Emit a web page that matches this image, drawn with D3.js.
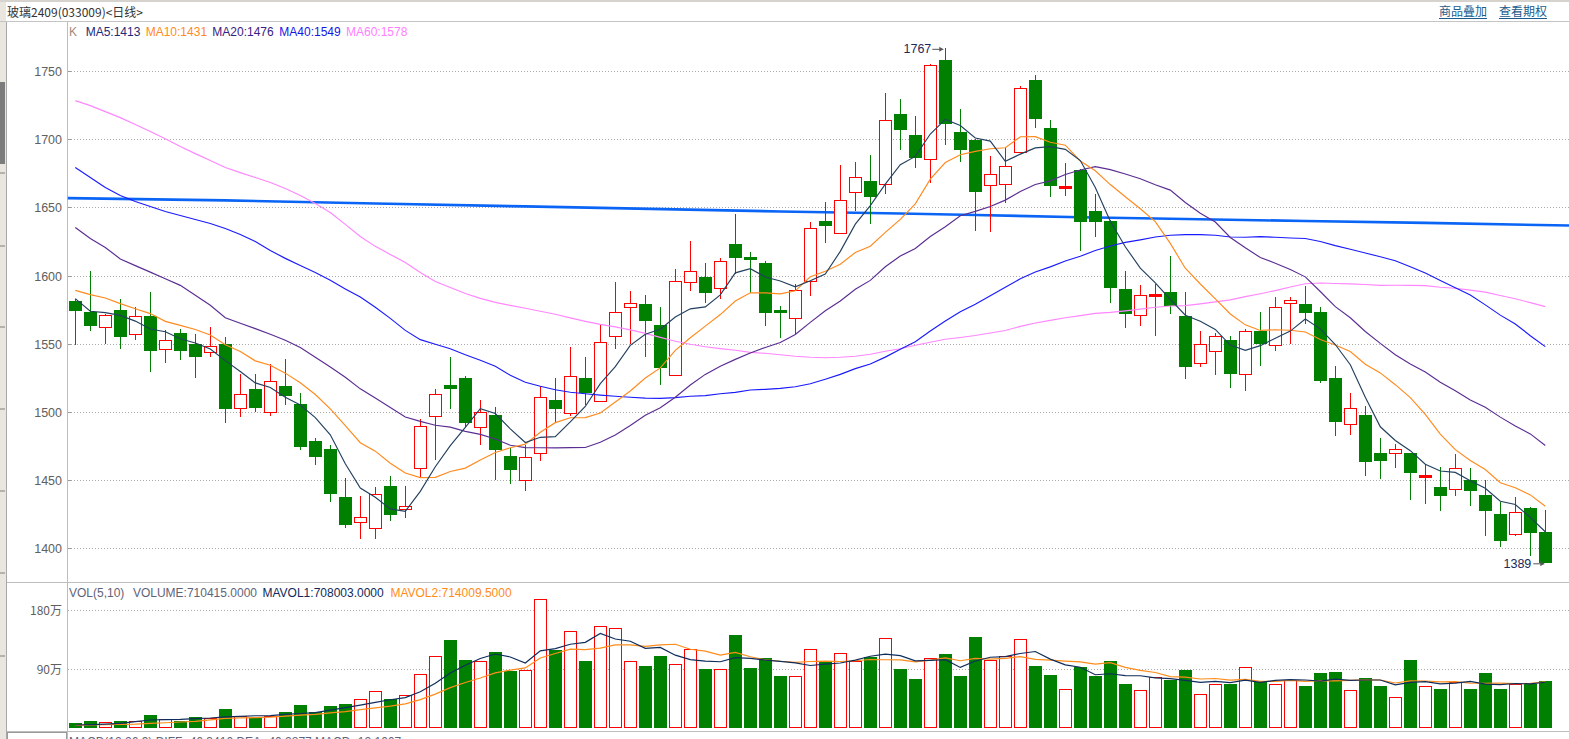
<!DOCTYPE html>
<html><head><meta charset="utf-8">
<script src="https://cdn.jsdelivr.net/npm/d3@7/dist/d3.min.js"></script>
<style>
html,body{margin:0;padding:0;background:#fff;overflow:hidden}
svg{display:block}
text{font-family:"Liberation Sans",Arial,sans-serif;font-size:12px}
.cjk{font-family:"Noto Sans CJK SC","Liberation Sans",sans-serif}
</style></head><body>
<svg id="c" width="1569" height="739"></svg>
<script>
// ---------------- DATA ----------------
const openP = [1581,1573,1562,1574.5,1557,1570,1546.5,1558,1550,1544,
 1550,1503,1517,1500,1519,1506,1479,1473,1437.6,1419,
 1415,1445.6,1429,1459,1497,1519.6,1524.7,1489,1498,1467.6,
 1450,1470,1509,1499,1525,1508,1556,1577,1579,1563.5,
 1527,1595,1599,1591,1623,1613.3,1609,1574.5,1569,1596,
 1639.7,1631,1661.6,1669,1667,1718.7,1703,1685.6,1758,1705,
 1699.7,1666.5,1667,1690.7,1743.6,1708.5,1664,1677.7,1647,1639.7,
 1590,1571,1585,1588,1570,1536,1545,1553,1528,1559,
 1549.4,1580,1579,1573,1524.7,1491.5,1498,1469.8,1469.6,1469.8,
 1453,1445,1443.6,1449.8,1439,1425,1410.7,1429.5,1412];
const highP = [1583,1603,1572,1583,1577,1588,1560,1561,1557,1562,
 1555,1528,1528,1535,1539,1514,1481,1476,1451.5,1438,
 1445,1453,1446,1495,1517,1540,1526,1509,1503.5,1473.7,
 1475.6,1519,1525,1547.6,1540,1564.5,1595,1589,1586,1577,
 1605,1625,1609,1613,1645,1617,1611,1578,1594,1639,
 1653.6,1681,1683.6,1688.7,1733.6,1729.7,1717,1755.3,1767,1722,
 1700,1688,1694.6,1739.3,1747,1714.4,1682.6,1678,1660,1641,
 1603,1593,1594,1614,1588,1559,1557.6,1556,1561,1573,
 1584,1584,1592,1577,1534,1513.7,1504,1481,1476.4,1470,
 1462,1459.3,1469,1458.6,1450,1434,1437.6,1430,1428];
const lowP = [1549,1559,1550,1546,1553,1529,1536,1538,1525,1540,
 1492,1496,1500,1497,1505,1472,1461,1434,1415,1406.6,
 1406.6,1420,1422,1452,1465,1502,1489,1475.6,1450,1447,
 1442,1464,1492,1497,1505,1508,1546,1550,1540,1520,
 1526,1588.6,1580,1583,1601,1587.5,1563,1554,1557,1585,
 1624,1630.6,1647,1638,1660,1692,1679,1668,1696,1683,
 1633,1632,1653,1690,1708,1657.5,1658,1618,1628,1580,
 1561.5,1563,1556,1571.6,1524,1533,1527,1517.6,1515,1534,
 1544.5,1550,1564.5,1521,1482,1483,1453,1451,1459,1435.6,
 1432.7,1427.5,1438.5,1431,1409,1401,1409,1394.4,1389];
const closeP = [1574,1563,1571,1555,1570,1545,1553,1545,1540,1548,
 1502,1513.5,1503,1523,1512,1474,1467,1440,1417,1423,
 1440,1424.6,1431,1490,1513.5,1517,1492,1499.6,1472,1457.3,
 1467,1511,1502,1526,1514,1551,1573,1580,1567,1532,
 1596,1603,1587,1611,1613,1611.3,1572.5,1572.5,1589.6,1635,
 1636,1655.5,1672.4,1657.5,1714,1707,1686,1754.4,1711,1692,
 1661,1674.6,1680,1737.6,1715,1665.5,1664.6,1639,1639,1591,
 1572,1586,1585.5,1578,1533,1550,1556,1528,1559,1550,
 1577,1582.3,1572.5,1522.7,1492.7,1502.7,1463.4,1464,1472.5,1455.4,
 1453.2,1438.5,1458.6,1442.2,1427.5,1405.6,1426.6,1411.4,1389.5];
// volume in 万 (10k lots)
const volume = [7.2,10.2,8.7,10.2,10.2,19.4,13.3,10.2,16.3,14.8,
 28.5,17.4,14.3,17.4,24.4,35.1,24,33.6,36.6,43.8,
 55.5,44.2,49.9,81.5,109.4,133.8,103.3,101.3,115.5,87,
 87.6,196.3,118.5,148.6,101.7,156.2,153.1,101.3,94.1,109.4,
 96.7,119.6,89.5,89.1,141.4,91.1,106.3,78.9,78.4,121.1,
 101.3,115,101.3,107.8,137.9,89.5,74.3,105.9,112.4,78.9,
 138.4,103.3,110.4,136.4,94.1,80.4,59,92.6,78.9,101.7,
 66.7,57.5,76.9,72.8,88,50.9,66.2,66.7,92.1,70.2,
 66.2,72.8,63.6,83.4,85,57,75.8,63.6,46.4,103.3,
 63.2,59,69.3,59,83.4,59,67.1,67.1,71.04];
// moving-average values before enough history is visible
const ma5Head  = [1583.1,1573.8,1572.8,1570.8];
const ma10Head = [1589.1,1586,1583.5,1579.4,1575.7,1572.1,1566.4,1563.5,1560.4];
const ma20Head = [1635.3,1627.2,1620.6,1612.2,1607.3,1602.5,1597.7,1592.8,1585.5,1578.2,
 1569.1,1565,1561.1,1556.9,1552.5,1547.2,1540.1,1533,1525.4];
const ma40Head = [1679.2,1671.9,1664.6,1658.7,1654.3,1650.6,1647,1644,1641.1,1638.2,
 1634.5,1630.1,1625,1618.4,1612.6,1607.4,1602.3,1596.5,1590.2,1584.2,
 1576.7,1568.6,1559.8,1553,1549.6,1546.3,1541.9,1537.9,1533.5,1526.9,
 1521.8,1518.8,1516.3,1514.4,1513.3,1512.3,1511.5,1510.8,1510.1];
const ma60Head = [1728.3,1724.6,1720.2,1715.8,1710.7,1705.6,1700.4,1694.6,1689.4,1684.3,
 1679.2,1675.5,1671.9,1668.2,1663.8,1658.7,1652.8,1646.2,1637.5,1628.7,
 1621.4,1615.5,1609.6,1602.3,1595.7,1591.3,1586.9,1583.3,1580.3,1578.1,
 1576,1573.8,1571.6,1569,1566.4,1564.2,1562.4,1560.2,1557.6,1554.7,
 1551.8,1549.6,1547.8,1546.4,1545.2,1543.7,1543,1541.9,1540.8,1540.1,
 1539.7,1540.1,1540.8,1542.3,1544.5,1546.3,1548.9,1551.1,1553.3];
const mavol1Head = [4.1,4.6,5.6,6.7];
const mavol2Head = [3.7,4.1,4.6,5.2,5.6,6.7,7.6,8.7,9.8];
// long reference line (thick blue), read at these bar positions
const refIdx = [-0.5,10,20,30,40,47,55,60,67,74,82,90,99.6];
const refVal = [1656.8,1655.1,1652.8,1650.7,1648.5,1647,1645.5,1644.4,1642.8,1641.5,1640,1638.6,1636.7];
// tick labels
const priceTicks = [1400,1450,1500,1550,1600,1650,1700,1750];
const volTicks = [90,180];
const volTickLabels = ["90万","180万"];
// legend texts
const title = "玻璃2409(033009)<日线>";
const links = ["商品叠加","查看期权"];
const maNames = ["MA5:1413","MA10:1431","MA20:1476","MA40:1549","MA60:1578"];
const volLegend = ["VOL(5,10)","VOLUME:710415.0000","MAVOL1:708003.0000","MAVOL2:714009.5000"];
const macdLegend = "MACD(12,26,9)  DIFF:-46.3410  DEA:-40.2877  MACD:-12.1067";
const highMark = "1767", lowMark = "1389";

// ---------------- DRAW ----------------
const W = 1569, H = 739;
const svg = d3.select("#c");
const N = closeP.length;
const idx = d3.range(N);
const xb = d3.scaleBand().domain(idx).range([67.8, 67.8 + 15 * N]).paddingInner(0.15).paddingOuter(0.075);
const xc = d3.scaleLinear().domain([0, N - 1]).range([xb(0) + xb.bandwidth() / 2, xb(N - 1) + xb.bandwidth() / 2]);
const y = d3.scaleLinear().domain([1400, 1750]).range([548.3, 71]);
const yv = d3.scaleLinear().domain([0, 180]).range([727.7, 610]);

const RED = "#ff0000", GREEN = "#008000";
const up = idx.map(i => closeP[i] > openP[i]);

// left strip
svg.append("rect").attr("x",0).attr("y",0).attr("width",6).attr("height",H).attr("fill","#e9e6df");
svg.append("rect").attr("x",0).attr("y",82).attr("width",5).attr("height",82).attr("fill","#7c7c7c");
[172,245,326,408,490,572,655].forEach(v=>svg.append("rect").attr("x",0).attr("y",v).attr("width",5).attr("height",2).attr("fill","#b5b2ab"));
svg.append("line").attr("x1",6.5).attr("x2",6.5).attr("y1",22).attr("y2",H).attr("stroke","#a8a8a8");

// header
svg.append("rect").attr("x",0).attr("y",0).attr("width",W).attr("height",2).attr("fill","#d6d3ce");
svg.append("line").attr("x1",0).attr("x2",W).attr("y1",21.5).attr("y2",21.5).attr("stroke","#c4c4c4");
svg.append("text").attr("class","cjk").attr("x",7).attr("y",17).attr("fill","#333").text(title);
const linkX = [1439,1499];
links.forEach((t,k)=>{
  svg.append("text").attr("class","cjk").attr("x",linkX[k]).attr("y",16).attr("fill","#1b5c8c").text(t);
  svg.append("line").attr("x1",linkX[k]).attr("x2",linkX[k]+48).attr("y1",18.5).attr("y2",18.5).attr("stroke","#1b5c8c");
});

// axis line and panel separators
svg.append("line").attr("x1",67.5).attr("x2",67.5).attr("y1",22).attr("y2",H).attr("stroke","#bdbdbd");
svg.append("line").attr("x1",7).attr("x2",W).attr("y1",582.5).attr("y2",582.5).attr("stroke","#bdbdbd");
svg.append("line").attr("x1",7).attr("x2",W).attr("y1",731.5).attr("y2",731.5).attr("stroke","#bdbdbd");
svg.append("rect").attr("x",7.5).attr("y",732.5).attr("width",59).attr("height",10).attr("fill","#fff").attr("stroke","#9a9a9a");

// price grid + labels
const grid = svg.append("g");
priceTicks.forEach(t=>{
  const yy = Math.round(y(t)) + 0.5;
  grid.append("line").attr("x1",68).attr("x2",W).attr("y1",yy).attr("y2",yy)
    .attr("stroke","#aaaaaa").attr("stroke-dasharray","1,2");
  grid.append("line").attr("x1",68).attr("x2",71).attr("y1",yy).attr("y2",yy).attr("stroke","#999");
  grid.append("text").attr("x",62).attr("y",yy+4.5).attr("text-anchor","end").attr("fill","#606060")
    .style("font-size","12.5px").text(t);
});
volTicks.forEach((t,k)=>{
  const yy = Math.round(yv(t)) + 0.5;
  grid.append("line").attr("x1",68).attr("x2",W).attr("y1",yy).attr("y2",yy)
    .attr("stroke","#aaaaaa").attr("stroke-dasharray","1,2");
  grid.append("text").attr("class","cjk").attr("x",62).attr("y",yy+4.5).attr("text-anchor","end").attr("fill","#606060")
    .text(volTickLabels[k]);
});

// thick reference line
svg.append("path").datum(refIdx.map((d,k)=>[d,refVal[k]]))
  .attr("d", d3.line().x(d=>xc(d[0])).y(d=>y(d[1])))
  .attr("fill","none").attr("stroke","#0a64f5").attr("stroke-width",2.6);

// moving averages
function ma(arr, n, head){ return arr.map((_,i)=> i < n-1 ? head[i] : d3.mean(arr.slice(i-n+1,i+1))); }
const maSeries = [
  {v: ma(closeP,60,ma60Head), c:"#ff86ff"},
  {v: ma(closeP,40,ma40Head), c:"#1a1aff"},
  {v: ma(closeP,20,ma20Head), c:"#5a2d92"},
  {v: ma(closeP,10,ma10Head), c:"#ff8a1e"},
  {v: ma(closeP,5,ma5Head),  c:"#23405f"}
];
const lineP = d3.line().x((d,i)=>xc(i)).y(d=>y(d));

// candles
const cg = svg.append("g").attr("shape-rendering","crispEdges");
idx.forEach(i=>{
  const cx = Math.round(xc(i));
  const left = Math.round(xb(i));
  const yO = y(openP[i]), yC = y(closeP[i]), yH = y(highP[i]), yL = y(lowP[i]);
  if (up[i]) {
    const top = Math.round(yC), bot = Math.round(yO);
    if (bot - top < 2) {
      cg.append("line").attr("x1",cx+0.5).attr("x2",cx+0.5).attr("y1",yH).attr("y2",yL).attr("stroke",RED);
      cg.append("rect").attr("x",left).attr("y",top-1).attr("width",13).attr("height",3).attr("fill",RED);
    } else {
      cg.append("line").attr("x1",cx+0.5).attr("x2",cx+0.5).attr("y1",yH).attr("y2",top).attr("stroke",RED);
      cg.append("line").attr("x1",cx+0.5).attr("x2",cx+0.5).attr("y1",bot+1).attr("y2",yL).attr("stroke",RED);
      cg.append("rect").attr("x",left+0.5).attr("y",top+0.5).attr("width",12).attr("height",bot-top)
        .attr("fill","#fff").attr("stroke",RED);
    }
  } else {
    cg.append("line").attr("x1",cx+0.5).attr("x2",cx+0.5).attr("y1",yH).attr("y2",yL).attr("stroke",GREEN);
    const top = Math.round(yO), bot = Math.round(yC);
    cg.append("rect").attr("x",left).attr("y",top).attr("width",13).attr("height",Math.max(2,bot-top)).attr("fill",GREEN);
  }
});

maSeries.forEach(s=>{
  svg.append("path").datum(s.v).attr("d",lineP).attr("fill","none").attr("stroke",s.c).attr("stroke-width",1.15);
});

// volume bars
const vg = svg.append("g").attr("shape-rendering","crispEdges");
idx.forEach(i=>{
  const left = Math.round(xb(i));
  const top = Math.round(yv(volume[i])), bot = Math.round(yv(0));
  if (up[i]) {
    vg.append("rect").attr("x",left+0.5).attr("y",top+0.5).attr("width",12).attr("height",bot-top-1)
      .attr("fill","#fff").attr("stroke",RED);
  } else {
    vg.append("rect").attr("x",left).attr("y",top).attr("width",13).attr("height",bot-top).attr("fill",GREEN);
  }
});
const mv1 = ma(volume,5,mavol1Head), mv2 = ma(volume,10,mavol2Head);
const lineV = d3.line().x((d,i)=>xc(i)).y(d=>yv(d));
svg.append("path").datum(mv2).attr("d",lineV).attr("fill","none").attr("stroke","#ff8c1a").attr("stroke-width",1.2);
svg.append("path").datum(mv1).attr("d",lineV).attr("fill","none").attr("stroke","#0f2d5c").attr("stroke-width",1.2);

// legends
svg.append("text").attr("x",69).attr("y",36).attr("fill","#a08c78").text("K");
const maLegX = [85.7,145.7,212.3,279.3,346];
const maLegC = ["#1c2a78","#ff8a1e","#3a2080","#1515e6","#ff80ff"];
maNames.forEach((t,k)=>svg.append("text").attr("x",maLegX[k]).attr("y",36).attr("fill",maLegC[k]).text(t));
const volLegX = [69,132.9,262.5,390.4];
const volLegC = ["#5f6378","#5f6378","#102a5a","#ff8c1a"];
volLegend.forEach((t,k)=>svg.append("text").attr("x",volLegX[k]).attr("y",597).attr("fill",volLegC[k]).text(t));
svg.append("text").attr("x",69).attr("y",746).attr("fill","#5f6378").text(macdLegend);

// high / low markers
const hi = d3.maxIndex(highP), lo = d3.minIndex(lowP);
const hx = xc(hi), hy = y(highP[hi]);
svg.append("text").attr("x",hx-14).attr("y",hy+5).attr("text-anchor","end").attr("fill","#1a2a5a").style("font-size","12.5px").text(highMark);
svg.append("line").attr("x1",hx-13).attr("x2",hx-2).attr("y1",hy+1.5).attr("y2",hy+1.5).attr("stroke","#555");
svg.append("path").attr("d",`M${hx-2},${hy+1.5} l-4,-2.5 v5 z`).attr("fill","#555");
const lx = xc(lo), ly = y(lowP[lo]);
svg.append("text").attr("x",lx-14).attr("y",ly+4.5).attr("text-anchor","end").attr("fill","#1a2a5a").style("font-size","12.5px").text(lowMark);
svg.append("line").attr("x1",lx-12).attr("x2",lx-1).attr("y1",ly+0.5).attr("y2",ly+0.5).attr("stroke","#555");
svg.append("path").attr("d",`M${lx-1},${ly+0.5} l-4,-2.5 v5 z`).attr("fill","#555");
</script>
</body></html>
